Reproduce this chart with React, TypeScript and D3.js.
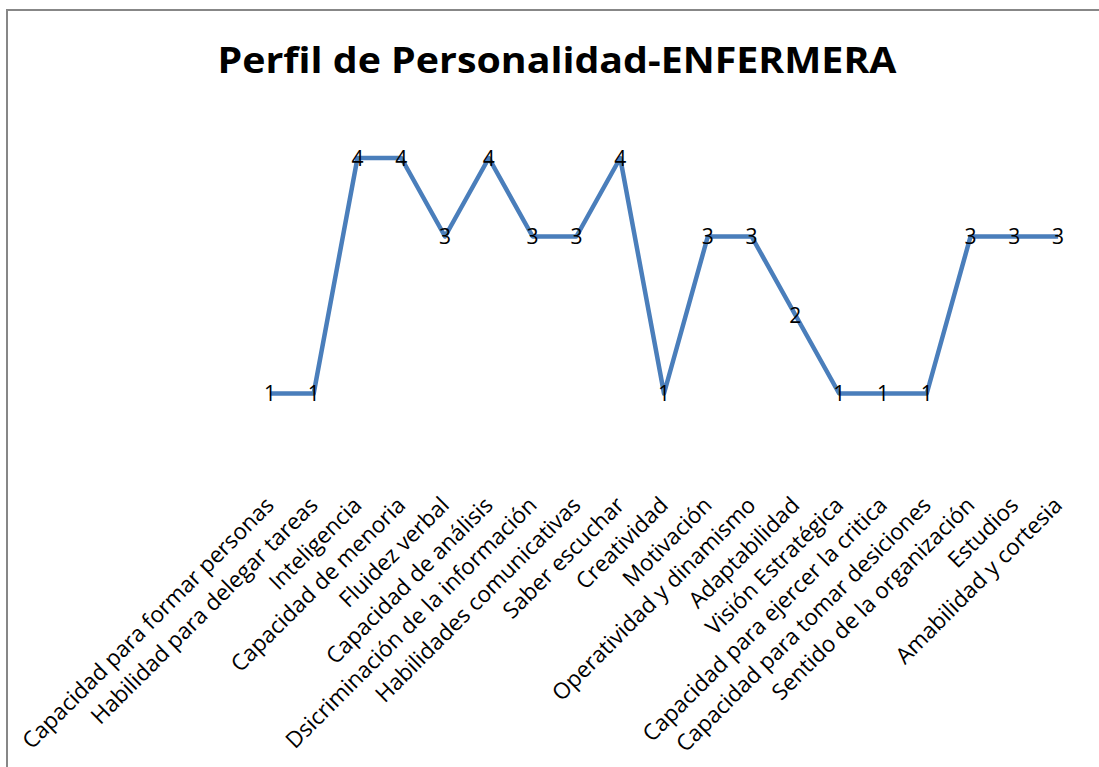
import React, {useRef, useEffect} from "react";
import * as d3 from "d3";

const categories = [
  "Capacidad para formar personas",
  "Habilidad para delegar tareas",
  "Inteligencia",
  "Capacidad de menoria",
  "Fluidez verbal",
  "Capacidad de análisis",
  "Dsicriminación de la información",
  "Habilidades comunicativas",
  "Saber escuchar",
  "Creatividad",
  "Motivación",
  "Operatividad y dinamismo",
  "Adaptabilidad",
  "Visión Estratégica",
  "Capacidad para ejercer la critica",
  "Capacidad para tomar desiciones",
  "Sentido de la organización",
  "Estudios",
  "Amabilidad y cortesia",
];

const values = [1, 1, 4, 4, 3, 4, 3, 3, 4, 1, 3, 3, 2, 1, 1, 1, 3, 3, 3];

const title = "Perfil de Personalidad-ENFERMERA";

const W = 1099;
const H = 767;
const FONT = "'Open Sans', 'Noto Sans', sans-serif";

export default function App() {
  const svgRef = useRef<SVGSVGElement>(null);

  useEffect(() => {
    const svg = d3.select(svgRef.current);
    svg.selectAll("*").remove();

    // chart frame (cropped on right/bottom)
    svg
      .append("rect")
      .attr("x", 7)
      .attr("y", 10)
      .attr("width", W + 20)
      .attr("height", H + 20)
      .attr("fill", "#fff")
      .attr("stroke", "#878787")
      .attr("stroke-width", 2);

    svg
      .append("text")
      .attr("x", 557)
      .attr("y", 73)
      .attr("text-anchor", "middle")
      .style("font-family", FONT)
      .style("font-weight", "bold")
      .style("font-size", "36px")
      .attr("textLength", 679)
      .attr("lengthAdjust", "spacingAndGlyphs")
      .text(title);

    const x = d3
      .scalePoint()
      .domain(categories)
      .range([248, 1080])
      .padding(0.5);

    const y = d3.scaleLinear().domain([0, 5]).range([472, 79.5]);

    const line = d3
      .line<number>()
      .x((d, i) => x(categories[i]))
      .y((d) => y(d));

    svg
      .append("path")
      .datum(values)
      .attr("d", line)
      .attr("fill", "none")
      .attr("stroke", "#4A7EBB")
      .attr("stroke-width", 4.5)
      .attr("stroke-linejoin", "round");

    svg
      .selectAll(".val")
      .data(values)
      .join("text")
      .attr("class", "val")
      .attr("x", (d, i) => x(categories[i]))
      .attr("y", (d) => y(d))
      .attr("dy", "0.36em")
      .attr("text-anchor", "middle")
      .style("font-family", FONT)
      .style("font-size", "21px")
      .text((d) => d);

    // category labels rotated -45
    svg
      .selectAll(".cat")
      .data(categories)
      .join("text")
      .attr("class", "cat")
      .attr(
        "transform",
        (d) => `translate(${x(d)},${501}) rotate(-45)`
      )
      .attr("text-anchor", "end")
      .attr("dy", "0.35em")
      .style("font-family", FONT)
      .style("font-size", "22.5px")
      .text((d) => d);
  }, []);

  return (
    <svg
      ref={svgRef}
      width={W}
      height={H}
      style={{position: "absolute", left: 0, top: 0}}
    />
  );
}
